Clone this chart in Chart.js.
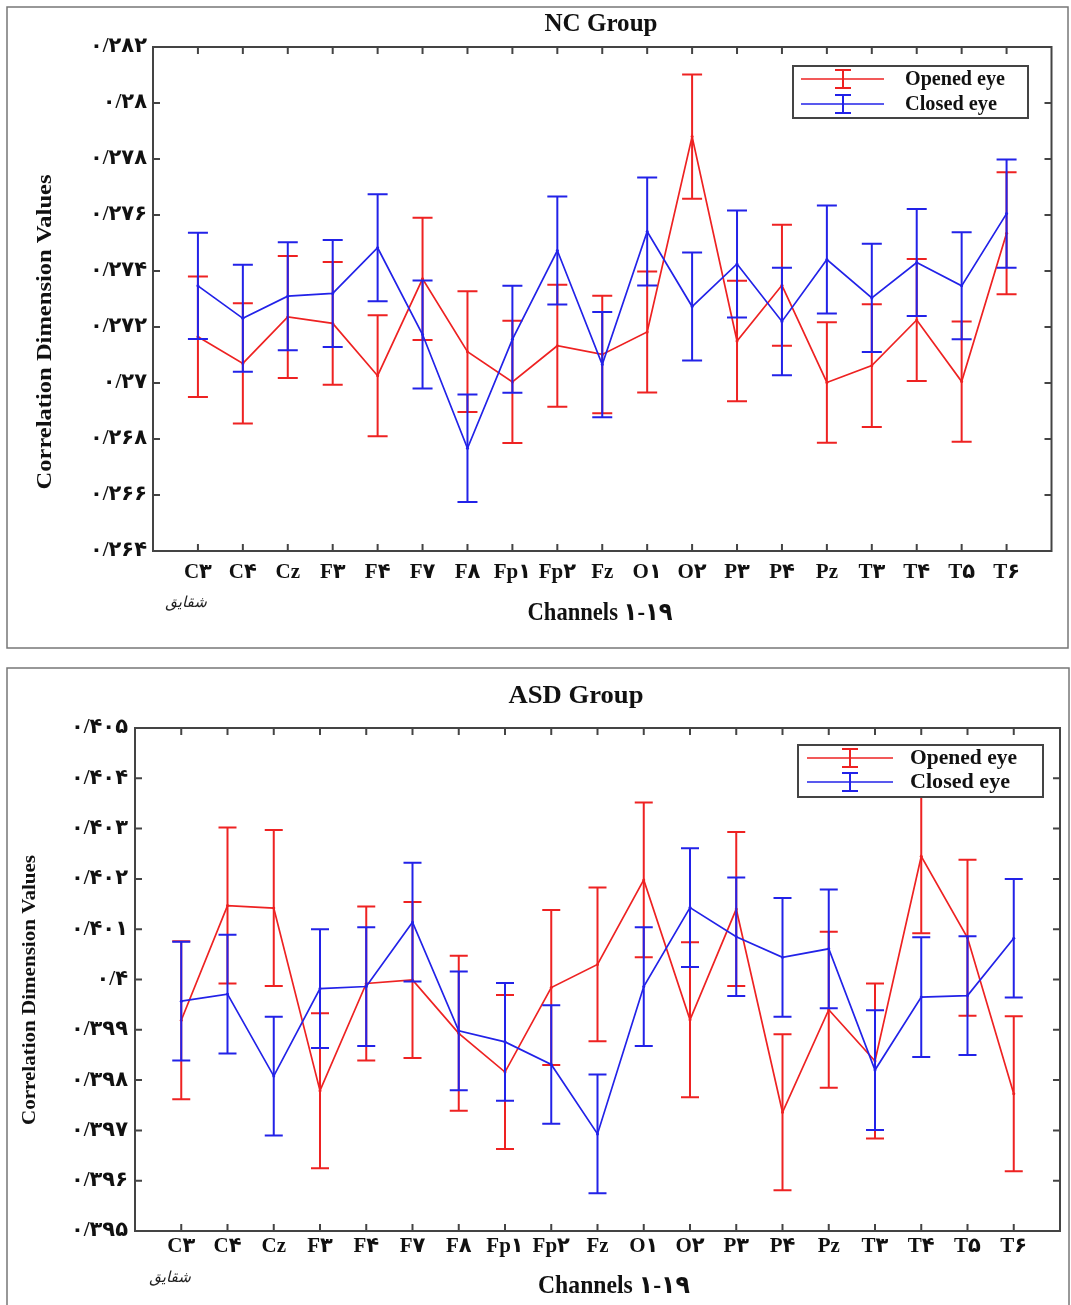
<!DOCTYPE html>
<html lang="en">
<head>
<meta charset="UTF-8">
<title>Correlation Dimension Values - NC and ASD Groups</title>
<script src="https://cdn.jsdelivr.net/npm/chart.js"></script>
<style>
    body {
        margin: 0;
        background: #fff;
    }
    .wrap {
        position: relative;
        width: 1071px;
        height: 1305px;
        overflow: hidden;
    }
    canvas {
        position: absolute;
        left: 0;
    }
    #ncChart { top: 0; width: 1071px; height: 655px; }
    #asdChart { top: 660px; width: 1071px; height: 645px; }
</style>
</head>
<body>
<div class="wrap">
    <canvas id="ncChart" width="1071" height="655"></canvas>
    <canvas id="asdChart" width="1071" height="645"></canvas>
</div>

<script>
    const channels = ['C۳', 'C۴', 'Cz', 'F۳', 'F۴', 'F۷', 'F۸', 'Fp۱', 'Fp۲', 'Fz',
                      'O۱', 'O۲', 'P۳', 'P۴', 'Pz', 'T۳', 'T۴', 'T۵', 'T۶'];

    // NC group
    const ncTicks = [0.264, 0.266, 0.268, 0.270, 0.272, 0.274, 0.276, 0.278, 0.280, 0.282];
    const ncTickLabels = ['۰/۲۶۴', '۰/۲۶۶', '۰/۲۶۸', '۰/۲۷', '۰/۲۷۲', '۰/۲۷۴', '۰/۲۷۶', '۰/۲۷۸', '۰/۲۸', '۰/۲۸۲'];
    const ncOpened = [0.27165, 0.27070, 0.27236, 0.27213, 0.27026, 0.27372, 0.27112, 0.27004, 0.27133, 0.27102,
                      0.27182, 0.27880, 0.27150, 0.27349, 0.27002, 0.27062, 0.27225, 0.27005, 0.27535];
    const ncOpenedErr = [0.00215, 0.00215, 0.00218, 0.00219, 0.00216, 0.00218, 0.00216, 0.00218, 0.00218, 0.00210,
                         0.00216, 0.00222, 0.00215, 0.00216, 0.00215, 0.00219, 0.00218, 0.00215, 0.00218];
    const ncClosed = [0.27347, 0.27231, 0.27310, 0.27320, 0.27483, 0.27173, 0.26767, 0.27156, 0.27473, 0.27066,
                      0.27541, 0.27273, 0.27425, 0.27220, 0.27441, 0.27304, 0.27430, 0.27347, 0.27605];
    const ncClosedErr = [0.00190, 0.00191, 0.00193, 0.00191, 0.00191, 0.00193, 0.00192, 0.00191, 0.00193, 0.00188,
                         0.00193, 0.00193, 0.00191, 0.00192, 0.00193, 0.00193, 0.00191, 0.00191, 0.00193];

    // ASD group
    const asdTicks = [0.395, 0.396, 0.397, 0.398, 0.399, 0.400, 0.401, 0.402, 0.403, 0.404, 0.405];
    const asdTickLabels = ['۰/۳۹۵', '۰/۳۹۶', '۰/۳۹۷', '۰/۳۹۸', '۰/۳۹۹', '۰/۴', '۰/۴۰۱', '۰/۴۰۲', '۰/۴۰۳', '۰/۴۰۴', '۰/۴۰۵'];
    const asdOpened = [0.39919, 0.40147, 0.40142, 0.39779, 0.39992, 0.39999, 0.39893, 0.39816, 0.39984, 0.40030,
                       0.40198, 0.39920, 0.40140, 0.39736, 0.39940, 0.39838, 0.40245, 0.40083, 0.39773];
    const asdOpenedErr = [0.00157, 0.00155, 0.00155, 0.00154, 0.00153, 0.00155, 0.00154, 0.00153, 0.00154, 0.00153,
                          0.00154, 0.00154, 0.00153, 0.00155, 0.00155, 0.00154, 0.00153, 0.00155, 0.00154];
    const asdClosed = [0.39957, 0.39971, 0.39808, 0.39982, 0.39986, 0.40114, 0.39898, 0.39876, 0.39831, 0.39693,
                       0.39986, 0.40143, 0.40085, 0.40044, 0.40061, 0.39820, 0.39965, 0.39968, 0.40082];
    const asdClosedErr = [0.00118, 0.00118, 0.00118, 0.00118, 0.00118, 0.00118, 0.00118, 0.00117, 0.00118, 0.00118,
                          0.00118, 0.00118, 0.00118, 0.00118, 0.00118, 0.00119, 0.00119, 0.00118, 0.00118];

    const RED = 'rgb(238, 34, 34)';
    const BLUE = 'rgb(34, 34, 232)';
    const SERIF = "'Liberation Serif', 'DejaVu Sans', serif";
    const INK = '#111';

    // draws text squeezed/stretched to a given width
    function fitText(ctx, text, x, y, size, width, align, angle) {
        ctx.save();
        ctx.font = 'bold ' + size + 'px ' + SERIF;
        ctx.fillStyle = INK;
        ctx.textAlign = align || 'center';
        ctx.textBaseline = 'middle';
        ctx.translate(x, y);
        if (angle) ctx.rotate(angle);
        const w = ctx.measureText(text).width;
        ctx.scale(width / w, 1);
        ctx.fillText(text, 0, 0);
        ctx.restore();
    }

    // vertical error bars for each point, drawn right after its own line
    const errorBarPlugin = {
        id: 'errorBars',
        afterDatasetDraw(chart, args) {
            const ds = chart.data.datasets[args.index];
            const yScale = chart.scales.y;
            const ctx = chart.ctx;
            const cap = ds.capWidth;
            ctx.save();
            ctx.strokeStyle = ds.borderColor;
            ctx.lineWidth = 2;
            args.meta.data.forEach((pt, i) => {
                const v = ds.data[i].y;
                const e = ds.errorBars[i];
                const top = yScale.getPixelForValue(v + e);
                const bottom = yScale.getPixelForValue(v - e);
                ctx.beginPath();
                ctx.moveTo(pt.x, top);
                ctx.lineTo(pt.x, bottom);
                ctx.moveTo(pt.x - cap, top);
                ctx.lineTo(pt.x + cap, top);
                ctx.moveTo(pt.x - cap, bottom);
                ctx.lineTo(pt.x + cap, bottom);
                ctx.stroke();
            });
            ctx.restore();
        }
    };

    // panel border, axis box with inward ticks, titles and legend
    function decorPlugin(cfg) {
        return {
            id: 'decor',
            beforeDraw(chart) {
                const ctx = chart.ctx;
                ctx.save();
                ctx.fillStyle = '#fff';
                ctx.fillRect(0, 0, chart.width, chart.height);
                ctx.strokeStyle = '#777';
                ctx.lineWidth = 1.5;
                ctx.strokeRect(cfg.panel[0], cfg.panel[1], cfg.panel[2], cfg.panel[3]);
                ctx.restore();
            },
            afterDraw(chart) {
                const ctx = chart.ctx;
                const a = chart.chartArea;
                const xs = chart.scales.x;
                const ys = chart.scales.y;
                const tl = 7;

                ctx.save();
                ctx.strokeStyle = '#444';
                ctx.lineWidth = 2;
                ctx.strokeRect(a.left, a.top, a.right - a.left, a.bottom - a.top);
                ctx.beginPath();
                xs.ticks.forEach(t => {
                    const px = xs.getPixelForValue(t.value);
                    ctx.moveTo(px, a.bottom);
                    ctx.lineTo(px, a.bottom - tl);
                    ctx.moveTo(px, a.top);
                    ctx.lineTo(px, a.top + tl);
                });
                ys.ticks.forEach(t => {
                    const py = ys.getPixelForValue(t.value);
                    ctx.moveTo(a.left, py);
                    ctx.lineTo(a.left + tl, py);
                    ctx.moveTo(a.right, py);
                    ctx.lineTo(a.right - tl, py);
                });
                ctx.stroke();
                ctx.restore();

                fitText(ctx, cfg.title, cfg.titlePos[0], cfg.titlePos[1], 25, cfg.titlePos[2]);
                fitText(ctx, 'Channels ۱-۱۹', cfg.xTitlePos[0], cfg.xTitlePos[1], 25, cfg.xTitlePos[2]);
                fitText(ctx, 'Correlation Dimension Values', cfg.yTitlePos[0], cfg.yTitlePos[1], cfg.yTitlePos[3],
                        cfg.yTitlePos[2], 'center', -Math.PI / 2);

                // small signature under the axis
                ctx.save();
                ctx.font = 'italic 15px "DejaVu Sans"';
                ctx.fillStyle = '#222';
                ctx.textAlign = 'center';
                ctx.textBaseline = 'middle';
                ctx.fillText('شقایق', cfg.sign[0], cfg.sign[1]);
                ctx.restore();

                // legend
                const L = cfg.legend;
                ctx.save();
                ctx.fillStyle = '#fff';
                ctx.fillRect(L.x, L.y, L.w, L.h);
                ctx.strokeStyle = '#444';
                ctx.lineWidth = 2;
                ctx.strokeRect(L.x, L.y, L.w, L.h);
                chart.data.datasets.forEach((ds, i) => {
                    const yy = L.rows[i];
                    ctx.strokeStyle = ds.borderColor;
                    ctx.lineWidth = 1.6;
                    ctx.beginPath();
                    ctx.moveTo(L.x0, yy);
                    ctx.lineTo(L.x1, yy);
                    ctx.stroke();
                    ctx.lineWidth = 2;
                    ctx.beginPath();
                    ctx.moveTo(L.cx, yy - 9);
                    ctx.lineTo(L.cx, yy + 9);
                    ctx.moveTo(L.cx - 8, yy - 9);
                    ctx.lineTo(L.cx + 8, yy - 9);
                    ctx.moveTo(L.cx - 8, yy + 9);
                    ctx.lineTo(L.cx + 8, yy + 9);
                    ctx.stroke();
                    fitText(ctx, ds.label, L.tx, yy, 22, L.tw[i], 'left');
                });
                ctx.restore();
            }
        };
    }

    function series(label, values, errors, color, order, cap) {
        return {
            label: label,
            data: values.map((v, i) => ({ x: i + 1, y: v })),
            errorBars: errors,
            capWidth: cap,
            borderColor: color,
            backgroundColor: color,
            borderWidth: 1.7,
            pointRadius: 1.5,
            pointBorderWidth: 0,
            tension: 0,
            order: order
        };
    }

    function makeChart(id, d) {
        return new Chart(document.getElementById(id), {
            type: 'line',
            data: {
                datasets: [
                    series('Opened eye', d.opened, d.openedErr, RED, 1, d.cap),
                    series('Closed eye', d.closed, d.closedErr, BLUE, 0, d.cap)
                ]
            },
            options: {
                responsive: false,
                animation: false,
                layout: { padding: d.padding },
                plugins: {
                    legend: { display: false },
                    title: { display: false },
                    tooltip: { enabled: false }
                },
                scales: {
                    x: {
                        type: 'linear',
                        min: 0,
                        max: channels.length + 1,
                        grid: { display: false, drawTicks: false },
                        border: { display: false },
                        afterBuildTicks: s => { s.ticks = channels.map((c, i) => ({ value: i + 1 })); },
                        afterFit: s => { s.height = 40; },
                        ticks: {
                            autoSkip: false,
                            maxRotation: 0,
                            padding: d.xPad,
                            color: INK,
                            font: { family: SERIF, size: 21, weight: 'bold' },
                            callback: (v, i) => channels[i]
                        }
                    },
                    y: {
                        type: 'linear',
                        min: d.ticks[0],
                        max: d.ticks[d.ticks.length - 1],
                        grid: { display: false, drawTicks: false },
                        border: { display: false },
                        afterBuildTicks: s => { s.ticks = d.ticks.map(v => ({ value: v })); },
                        afterFit: s => { s.width = 100; },
                        ticks: {
                            autoSkip: false,
                            padding: d.yPad,
                            color: INK,
                            font: { family: SERIF, size: 21, weight: 'bold' },
                            callback: (v, i) => d.tickLabels[i]
                        }
                    }
                }
            },
            plugins: [errorBarPlugin, decorPlugin(d.decor)]
        });
    }

    makeChart('ncChart', {
        opened: ncOpened, openedErr: ncOpenedErr,
        closed: ncClosed, closedErr: ncClosedErr,
        ticks: ncTicks, tickLabels: ncTickLabels,
        padding: { left: 53, top: 47, right: 19.5, bottom: 64 },
        xPad: 9, yPad: 6, cap: 10,
        decor: {
            panel: [7, 7, 1061, 641],
            title: 'NC Group', titlePos: [601, 25, 113],
            xTitlePos: [600, 614, 145],
            yTitlePos: [45, 332, 315, 22],
            sign: [186, 603],
            legend: { x: 793, y: 66, w: 235, h: 52, x0: 801, x1: 884, cx: 843,
                      rows: [79, 104], tx: 905, tw: [100, 92] }
        }
    });

    makeChart('asdChart', {
        opened: asdOpened, openedErr: asdOpenedErr,
        closed: asdClosed, closedErr: asdClosedErr,
        ticks: asdTicks, tickLabels: asdTickLabels,
        padding: { left: 35, top: 68, right: 11, bottom: 34 },
        xPad: 3, yPad: 7, cap: 9,
        decor: {
            panel: [7, 8, 1062, 700],
            title: 'ASD Group', titlePos: [576, 37, 135],
            xTitlePos: [614, 627, 152],
            yTitlePos: [30, 330, 270, 19],
            sign: [170, 618],
            legend: { x: 798, y: 85, w: 245, h: 52, x0: 807, x1: 893, cx: 850,
                      rows: [98, 122], tx: 910, tw: [107, 100] }
        }
    });
</script>
</body>
</html>
